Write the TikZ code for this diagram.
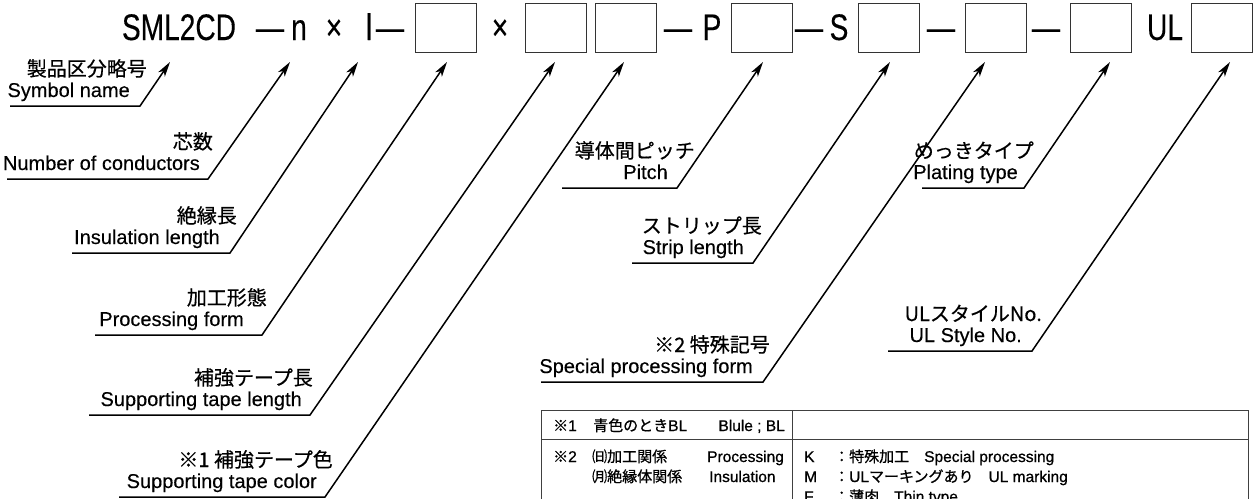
\documentclass[tikz,border=0pt]{standalone}
\usepackage{fontspec}
\usepackage{graphicx}
\setmainfont[FakeBold=0.3]{Liberation Sans}
\newfontfamily\jp[FakeBold=0.5]{Noto Sans CJK JP}
\newfontfamily\tabfont[FakeBold=0.8]{Liberation Sans}
\newfontfamily\tabjp[FakeBold=0.8]{Noto Sans CJK JP}
\usetikzlibrary{arrows.meta}
\newcommand\nar[1]{\scalebox{0.76}[1]{#1}}
\newcommand\tjp[1]{{\tabjp\fontsize{15}{18}\selectfont #1}}
% #1 name, #2 jp, #3 en, #4 xl, #5 xr, #6 yu, #7 tip x, #8 jp right, #9 en right
\newcommand\mklabel[9]{%
  \coordinate (#1L) at (#4,#6);
  \coordinate (#1R) at (#5,#6);
  \coordinate (#1T) at (#7,62);
  \node[entext] (#1en) at (#9,#6-9) {#3};
  \node[jptext] (#1jp) at (#8,#6-30) {#2};
  \draw[conn] (#1L) -- (#1R) -- (#1T);
}
\begin{document}
\begin{tikzpicture}[x=1pt,y=-1pt,
  conn/.style={line width=1.5pt,-{Stealth[length=15pt,width=8pt,inset=4pt]},line join=miter},
  cbox/.style={draw=black!80,line width=1pt,minimum width=61pt,minimum height=49pt,inner sep=0},
  topt/.style={font=\fontsize{37}{40}\selectfont,anchor=base,inner sep=0},
  entext/.style={font=\fontsize{20}{24}\selectfont,anchor=base east,inner sep=0},
  jptext/.style={font=\jp\fontsize{20}{24}\selectfont,anchor=base east,inner sep=0},
  tab/.style={draw=black!75,line width=1pt},
  tt/.style={font=\tabfont\fontsize{15.5}{18}\selectfont,anchor=base west,inner sep=0},
]
\useasboundingbox (0,0) rectangle (1258,498);
\clip (0,0) rectangle (1258,498);

% top row
\node[topt] (sml) at (179,40) {\nar{SML2CD}};
\node[topt] (d1) at (270,40) {\nar{—}};
\node[topt] (n) at (299,40) {\nar{n}};
\node[topt] (x1) at (334,40) {\nar{×}};
\node[topt] (l) at (369,40) {\nar{l}};
\node[topt] (d2) at (390,40) {\nar{—}};
\node[cbox] (b1) at (445.5,28) {};
\node[topt] (x2) at (500,40) {\nar{×}};
\node[cbox] (b2) at (555.5,28) {};
\node[cbox] (b3) at (625.5,28) {};
\node[topt] (d3) at (678,40) {\nar{—}};
\node[topt] (p) at (712,40) {\nar{P}};
\node[cbox] (b4) at (762,28) {};
\node[topt] (d4) at (809,40) {\nar{—}};
\node[topt] (s) at (839,40) {\nar{S}};
\node[cbox] (b5) at (889,28) {};
\node[topt] (d5) at (941,40) {\nar{—}};
\node[cbox] (b6) at (996,28) {};
\node[topt] (d6) at (1046,40) {\nar{—}};
\node[cbox] (b7) at (1101,28) {};
\node[topt] (ul) at (1165,40) {\nar{UL}};
\node[cbox] (b8) at (1222,28) {};

% labels
\mklabel{sym}{製品区分略号}{Symbol name}{10}{140}{106}{170}{147}{130}
\mklabel{nc}{芯数}{Number of conductors}{7}{208}{179}{290}{213}{200}
\mklabel{il}{絶縁長}{Insulation length}{72}{230}{253}{358}{237}{220}
\mklabel{pf}{加工形態}{Processing form}{95}{262}{335}{447}{267}{244}
\mklabel{tl}{補強テープ長}{Supporting tape length}{89}{310}{415}{555}{313}{302}
\mklabel{tc}{※1 補強テープ色}{Supporting tape color}{119}{325}{497}{624}{333}{317}
\mklabel{pi}{導体間ピッチ}{Pitch}{562}{677}{188}{763}{695}{668}
\mklabel{sl}{ストリップ長}{Strip length}{632}{753}{263}{890}{762}{744}
\mklabel{sp}{※2 特殊記号}{Special processing form}{541}{763}{382}{985}{770}{753}
\mklabel{pt}{めっきタイプ}{Plating type}{922}{1024}{188}{1110}{1034}{1018}
\mklabel{us}{ULスタイルNo.}{UL Style No.}{888}{1032}{351}{1230}{1042}{1022}

% table
\draw[tab] (541,530) -- (541,410) -- (1248,410) -- (1248,530);
\draw[tab] (541,439) -- (1248,439);
\draw[tab] (792,410) -- (792,530);
\node[tt] (r1a) at (553,431) {\tjp{※}1};
\node[tt] (r1b) at (593,431) {\tjp{青色のとき}BL};
\node[tt,anchor=base east] (r1c) at (785,431) {Blule ; BL};
\node[tt] (r2a) at (553,462) {\tjp{※}2};
\node[tt] (r2b) at (592,462) {\tjp{㈰加工関係}};
\node[tt] (r2c) at (707,462) {Processing};
\node[tt] (r3b) at (592,482) {\tjp{㈪絶縁体関係}};
\node[tt] (r3c) at (709,482) {Insulation};
\node[tt] (k) at (804,462) {K};
\node[tt] (m) at (804,482) {M};
\node[tt] (f) at (804,502) {F};
\node[tt] (kt) at (834,462) {\tjp{：特殊加工　}Special processing};
\node[tt] (mt) at (834,482) {\tjp{：}UL\tjp{マーキングあり　}UL marking};
\node[tt] (ft) at (834,502) {\tjp{：薄肉　}Thin type};
\end{tikzpicture}
\end{document}
